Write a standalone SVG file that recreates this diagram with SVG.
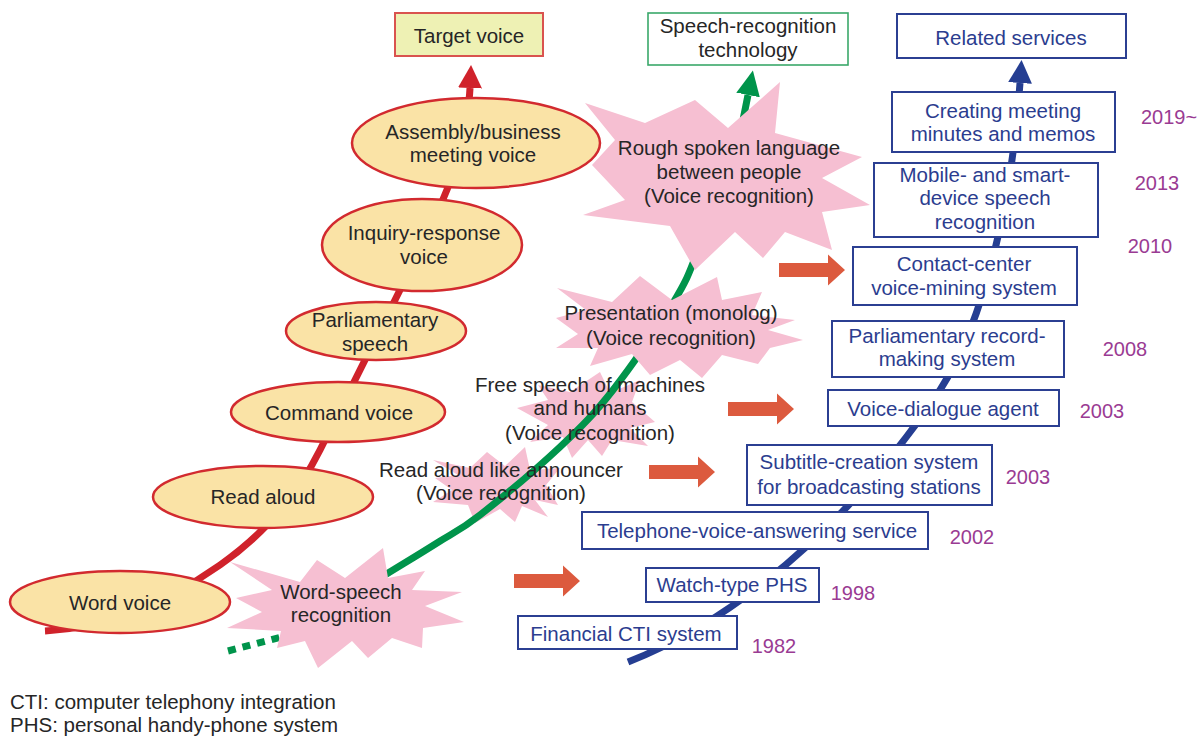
<svg xmlns="http://www.w3.org/2000/svg" width="1203" height="738" viewBox="0 0 1203 738">
  <style>
    text { font-family: "Liberation Sans", Arial, sans-serif; font-size: 20.5px; }
    .dark { fill: #262626; }
    .c { text-anchor: middle; }
    .blueTxt { fill: #2b3d8f; text-anchor: middle; }
    .year { fill: #9a3b93; text-anchor: middle; font-size: 20px; }
    .voice { fill: #fae3a6; stroke: #d22a2f; stroke-width: 2.5; }
    .star { fill: #f6bfd2; stroke: none; }
    .svc { fill: #ffffff; stroke: #2b3f92; stroke-width: 2; }
    .flow { fill: #dc5a3e; }
  </style>
  <defs>
    <marker id="headRed" markerUnits="userSpaceOnUse" markerWidth="26" markerHeight="26" refX="0" refY="12" orient="auto">
      <path d="M0,0 L23,12 L0,24 Z" fill="#d0222b"/>
    </marker>
    <marker id="headGreen" markerUnits="userSpaceOnUse" markerWidth="28" markerHeight="26" refX="0" refY="12" orient="auto">
      <path d="M0,0 L25,12 L0,24 Z" fill="#00944b"/>
    </marker>
    <marker id="headBlue" markerUnits="userSpaceOnUse" markerWidth="26" markerHeight="26" refX="0" refY="12" orient="auto">
      <path d="M0,0 L23,12 L0,24 Z" fill="#253e92"/>
    </marker>
    <path id="blockArrow" d="M0,-7 H49 V-15.5 L66,0 L49,15.5 V7 H0 Z"/>
  </defs>

  <rect width="1203" height="738" fill="#ffffff"/>

  <!-- connectors: the three progress curves -->
  <g id="connectors" fill="none">
    <path id="voice-curve" d="M45,631 C110,628 170,600 220,565 C270,530 300,490 320,450 C345,400 370,350 395,300 C420,250 445,200 458,160 C465,130 469,110 470,88" stroke="#d0222b" stroke-width="7" marker-end="url(#headRed)"/>
    <path id="service-curve" d="M628,662 C760,610 870,495 940,390 C985,320 1012,200 1020,83" stroke="#253e92" stroke-width="7" marker-end="url(#headBlue)"/>
  </g>

  <!-- smaller recognition bursts sit beneath the technology curve -->
  <g id="burst-read-aloud">
    <polygon class="star" points="433,460 470,468 487,452 505,466 525,447 530,470 560,468 546,485 558,505 535,500 548,517 522,506 515,522 500,509 475,523 468,505 433,502 452,490 435,478 458,475"/>
  </g>
  <g id="burst-free-speech">
    <polygon class="star" points="517,408 548,400 538,385 570,392 600,372 610,393 640,380 632,402 655,422 630,428 648,446 612,440 602,456 588,440 572,458 563,437 530,442 548,425"/>
  </g>

  <g id="connectors-tech" fill="none" stroke="#00944b" stroke-width="7">
    <path id="tech-dotted" d="M228,651 L285,636" stroke-dasharray="8 7"/>
    <path id="tech-curve" d="M285,636 C301.7,625.8 359.7,590.5 385,575 C410.3,559.5 421.2,553 437,543 C452.8,533 459.5,531 480,515 C500.5,499 537.8,467.8 560,447 C582.2,426.2 594.2,414 613,390 C631.8,366 658.5,327.2 673,303 C687.5,278.8 688.3,275.5 700,245 C711.7,214.5 734.8,145 743,120 L748,95" marker-end="url(#headGreen)"/>
  </g>

  <!-- larger recognition bursts -->
  <g id="burst-word-speech">
    <polygon class="star" points="230,562 300,582 317,560 345,578 383,548 388,578 425,571 412,590 462,592 425,606 464,622 423,628 422,648 392,638 368,658 352,641 318,668 305,641 277,648 281,631 227,628 262,612 236,598 272,590"/>
    <text class="dark c" x="341" y="599">Word-speech</text>
    <text class="dark c" x="341" y="622">recognition</text>
  </g>
  <g id="burst-presentation">
    <polygon class="star" points="557,288 612,302 640,276 672,300 717,277 722,300 762,292 752,315 795,320 768,330 803,340 770,348 758,364 722,355 702,378 680,360 650,375 632,354 590,366 598,348 556,348 578,334 556,318 586,310"/>
    <text class="dark c" x="671" y="320">Presentation (monolog)</text>
    <text class="dark c" x="671" y="345">(Voice recognition)</text>
  </g>
  <g id="burst-rough-spoken">
    <polygon class="star" points="585,103 645,123 695,100 728,128 780,82 775,133 862,157 822,178 870,205 822,212 832,250 785,232 763,258 735,232 695,270 670,226 583,215 625,200 592,165 615,140"/>
    <text class="dark c" x="729" y="155">Rough spoken language</text>
    <text class="dark c" x="729" y="179">between people</text>
    <text class="dark c" x="729" y="203">(Voice recognition)</text>
  </g>

  <!-- labels of the smaller bursts -->
  <g id="label-free-speech">
    <text class="dark c" x="590" y="392">Free speech of machines</text>
    <text class="dark c" x="590" y="415">and humans</text>
    <text class="dark c" x="590" y="440">(Voice recognition)</text>
  </g>
  <g id="label-read-aloud">
    <text class="dark c" x="501" y="477">Read aloud like announcer</text>
    <text class="dark c" x="501" y="500">(Voice recognition)</text>
  </g>

  <!-- target voice types -->
  <g id="voice-word">
    <ellipse class="voice" cx="120" cy="602" rx="110" ry="31"/>
    <text class="dark c" x="120" y="610">Word voice</text>
  </g>
  <g id="voice-read-aloud">
    <ellipse class="voice" cx="263" cy="497" rx="110" ry="31"/>
    <text class="dark c" x="263" y="504">Read aloud</text>
  </g>
  <g id="voice-command">
    <ellipse class="voice" cx="338" cy="412" rx="107" ry="30"/>
    <text class="dark c" x="339" y="420">Command voice</text>
  </g>
  <g id="voice-parliamentary">
    <ellipse class="voice" cx="376" cy="331" rx="90" ry="29"/>
    <text class="dark c" x="375" y="327">Parliamentary</text>
    <text class="dark c" x="375" y="351">speech</text>
  </g>
  <g id="voice-inquiry">
    <ellipse class="voice" cx="422" cy="245" rx="100" ry="46"/>
    <text class="dark c" x="424" y="240">Inquiry-response</text>
    <text class="dark c" x="424" y="264">voice</text>
  </g>
  <g id="voice-assembly">
    <ellipse class="voice" cx="476" cy="143" rx="124" ry="45"/>
    <text class="dark c" x="473" y="139">Assembly/business</text>
    <text class="dark c" x="473" y="162">meeting voice</text>
  </g>

  <!-- column headings -->
  <g id="head-target">
    <rect x="395" y="13" width="148" height="43" fill="#eef1b4" stroke="#d9534f" stroke-width="2"/>
    <text class="dark c" x="469" y="43">Target voice</text>
  </g>
  <g id="head-technology">
    <rect x="648" y="13" width="200" height="52" fill="#ffffff" stroke="#3aa86a" stroke-width="1.6"/>
    <text class="dark c" x="748" y="33">Speech-recognition</text>
    <text class="dark c" x="748" y="57">technology</text>
  </g>
  <g id="head-services">
    <rect class="svc" x="897" y="14" width="229" height="44"/>
    <text class="blueTxt" x="1011" y="45">Related services</text>
  </g>

  <!-- related services -->
  <g id="svc-financial-cti">
    <rect class="svc" x="518" y="616" width="219" height="33"/>
    <text class="blueTxt" x="626" y="641">Financial CTI system</text>
  </g>
  <g id="svc-watch-phs">
    <rect class="svc" x="646" y="568" width="173" height="34"/>
    <text class="blueTxt" x="732" y="592">Watch-type PHS</text>
  </g>
  <g id="svc-telephone">
    <rect class="svc" x="582" y="512" width="346" height="37"/>
    <text class="blueTxt" x="757" y="538">Telephone-voice-answering service</text>
  </g>
  <g id="svc-subtitle">
    <rect class="svc" x="747" y="445" width="245" height="60"/>
    <text class="blueTxt" x="869" y="469">Subtitle-creation system</text>
    <text class="blueTxt" x="869" y="494">for broadcasting stations</text>
  </g>
  <g id="svc-voice-dialogue">
    <rect class="svc" x="828" y="390" width="231" height="36"/>
    <text class="blueTxt" x="943" y="416">Voice-dialogue agent</text>
  </g>
  <g id="svc-parliamentary-record">
    <rect class="svc" x="832" y="321" width="232" height="56"/>
    <text class="blueTxt" x="947" y="343">Parliamentary record-</text>
    <text class="blueTxt" x="947" y="366">making system</text>
  </g>
  <g id="svc-contact-center">
    <rect class="svc" x="853" y="247" width="224" height="58"/>
    <text class="blueTxt" x="964" y="271">Contact-center</text>
    <text class="blueTxt" x="964" y="295">voice-mining system</text>
  </g>
  <g id="svc-mobile">
    <rect class="svc" x="874" y="163" width="224" height="74"/>
    <text class="blueTxt" x="985" y="182">Mobile- and smart-</text>
    <text class="blueTxt" x="985" y="205">device speech</text>
    <text class="blueTxt" x="985" y="229">recognition</text>
  </g>
  <g id="svc-minutes">
    <rect class="svc" x="892" y="92" width="223" height="60"/>
    <text class="blueTxt" x="1003" y="118">Creating meeting</text>
    <text class="blueTxt" x="1003" y="141">minutes and memos</text>
  </g>

  <!-- years -->
  <g id="years">
    <text class="year" x="774" y="653">1982</text>
    <text class="year" x="853" y="600">1998</text>
    <text class="year" x="972" y="544">2002</text>
    <text class="year" x="1028" y="484">2003</text>
    <text class="year" x="1102" y="418">2003</text>
    <text class="year" x="1125" y="356">2008</text>
    <text class="year" x="1150" y="253">2010</text>
    <text class="year" x="1157" y="190">2013</text>
    <text class="year" x="1169" y="124">2019~</text>
  </g>

  <!-- technology-to-service arrows -->
  <g id="flow-arrows" class="flow">
    <use href="#blockArrow" x="514" y="581"/>
    <use href="#blockArrow" x="649" y="472"/>
    <use href="#blockArrow" x="728" y="409"/>
    <use href="#blockArrow" x="779" y="270"/>
  </g>

  <!-- abbreviations -->
  <g id="legend">
    <text class="dark" x="10" y="709">CTI: computer telephony integration</text>
    <text class="dark" x="10" y="732">PHS: personal handy-phone system</text>
  </g>
</svg>
